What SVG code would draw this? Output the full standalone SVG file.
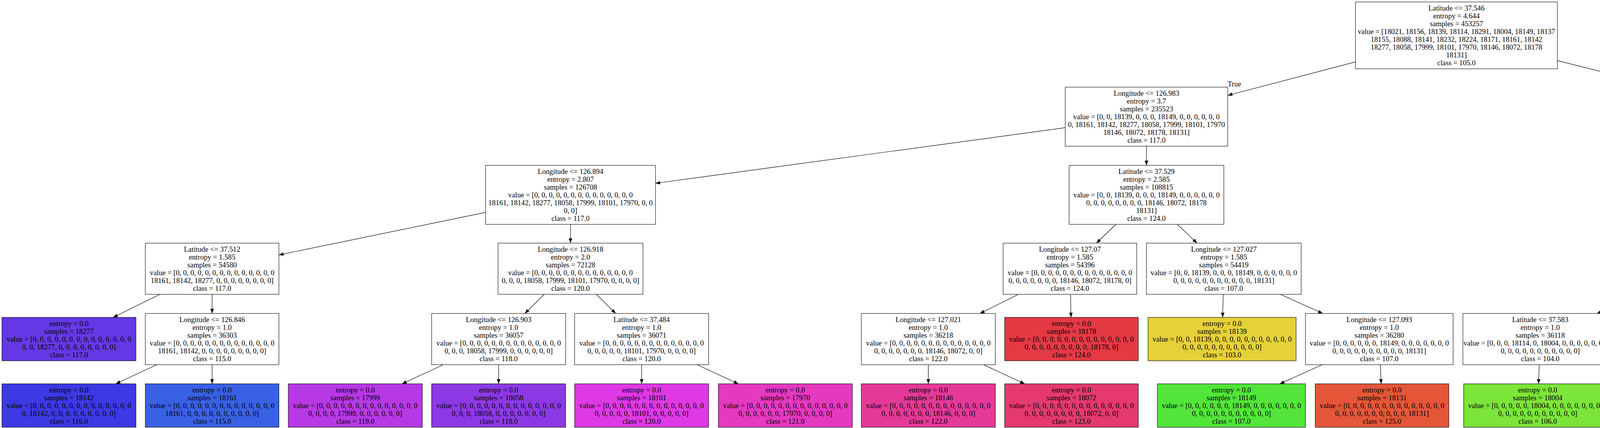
<svg xmlns="http://www.w3.org/2000/svg" width="7214" height="1095" viewBox="0 0 7214 1095">
<defs>
<style>
.nd rect{stroke:#000;stroke-width:1.1}
text{font-family:"Liberation Serif","Times New Roman",serif;font-size:18.7px;text-anchor:middle;fill:#000}
#edges line{stroke:#000;stroke-width:1.2;marker-end:url(#ah)}
</style>
<marker id="ah" markerWidth="12" markerHeight="10" refX="12" refY="5" orient="auto" markerUnits="userSpaceOnUse"><path d="M0,0.5 L12,5 L0,9.5 z" fill="#000"/></marker>
</defs>
<rect x="0" y="0" width="7214" height="1095" fill="#fff"/>
<g id="edges">
<line x1="3470" y1="158.3" x2="3143" y2="244"/>
<line x1="3987" y1="155.1" x2="4311" y2="236.1"/>
<line x1="2727" y1="326.7" x2="1678" y2="469"/>
<line x1="2935" y1="374" x2="2935" y2="423"/>
<line x1="4560" y1="374" x2="4560" y2="423"/>
<line x1="4810" y1="339" x2="5577" y2="463.5"/>
<line x1="1243" y1="543.3" x2="714" y2="652.3"/>
<line x1="1460.5" y1="574" x2="1460.5" y2="622"/>
<line x1="2856.7" y1="574" x2="2806.9" y2="622"/>
<line x1="3014.1" y1="574" x2="3064.4" y2="622"/>
<line x1="4472.6" y1="574" x2="4417.4" y2="622"/>
<line x1="4647.2" y1="574" x2="4702.9" y2="622"/>
<line x1="5792" y1="574" x2="5792" y2="622"/>
<line x1="6008" y1="564.9" x2="6208" y2="626.5"/>
<line x1="409.6" y1="753" x2="289.5" y2="812"/>
<line x1="543" y1="753" x2="543" y2="802"/>
<line x1="1393.5" y1="753" x2="1343.5" y2="802"/>
<line x1="1526.7" y1="753" x2="1576.3" y2="802"/>
<line x1="2607.1" y1="753" x2="2508.4" y2="802"/>
<line x1="2740.5" y1="753" x2="2741.8" y2="812"/>
<line x1="3131.4" y1="753" x2="3129.9" y2="812"/>
<line x1="3277.8" y1="753" x2="3386.2" y2="802"/>
<line x1="4196.8" y1="753" x2="4088.2" y2="802"/>
<line x1="4346.9" y1="753" x2="4351.3" y2="812"/>
<line x1="4774.6" y1="753" x2="4771.4" y2="802"/>
<line x1="4924.4" y1="753" x2="5055.3" y2="812"/>
<line x1="5718.9" y1="753" x2="5664.1" y2="802"/>
<line x1="5868.8" y1="753" x2="5938" y2="812"/>
<line x1="6406" y1="753" x2="6405.6" y2="812"/>
<line x1="6555.9" y1="753" x2="6668.1" y2="802"/>
<line x1="401.8" y1="933" x2="296.2" y2="982"/>
<line x1="543" y1="933" x2="543" y2="982"/>
<line x1="1135.1" y1="933" x2="1029.3" y2="982"/>
<line x1="1276.5" y1="933" x2="1276.5" y2="982"/>
<line x1="1642.5" y1="933" x2="1642.5" y2="982"/>
<line x1="1784.3" y1="933" x2="1890.4" y2="982"/>
<line x1="2376.5" y1="933" x2="2376.5" y2="982"/>
<line x1="2517.7" y1="933" x2="2623.3" y2="982"/>
<line x1="3385.2" y1="933" x2="3276.1" y2="982"/>
<line x1="3533.7" y1="933" x2="3535.7" y2="982"/>
<line x1="3940.5" y1="933" x2="3938.6" y2="982"/>
<line x1="4095.8" y1="933" x2="4210" y2="982"/>
<line x1="4762.4" y1="933" x2="4758.9" y2="982"/>
<line x1="4917.6" y1="933" x2="5030.3" y2="982"/>
<line x1="5585.2" y1="933" x2="5580.9" y2="982"/>
<line x1="5740.5" y1="933" x2="5852.3" y2="982"/>
<line x1="6740.2" y1="933" x2="6682" y2="982"/>
<line x1="6895.6" y1="933" x2="6953.7" y2="982"/>
<text x="3160" y="221">True</text>
<text x="4293" y="213">False</text>
</g>

<g id="node0" class="nd"><rect x="3470" y="5" width="517" height="171" fill="#fff"/>
<text y="26.5"><tspan x="3728.5">Latitude &lt;= 37.546</tspan><tspan x="3728.5" dy="20">entropy = 4.644</tspan><tspan x="3728.5" dy="20">samples = 453257</tspan><tspan x="3728.5" dy="20">value = [18021, 18156, 18139, 18114, 18291, 18004, 18149, 18137</tspan><tspan x="3728.5" dy="20">18155, 18088, 18141, 18232, 18224, 18171, 18161, 18142</tspan><tspan x="3728.5" dy="20">18277, 18058, 17999, 18101, 17970, 18146, 18072, 18178</tspan><tspan x="3728.5" dy="20">18131]</tspan><tspan x="3728.5" dy="20">class = 105.0</tspan></text></g>

<g id="node1" class="nd"><rect x="2727" y="223" width="416" height="151" fill="#fff"/>
<text y="244.5"><tspan x="2935">Longitude &lt;= 126.983</tspan><tspan x="2935" dy="20">entropy = 3.7</tspan><tspan x="2935" dy="20">samples = 235523</tspan><tspan x="2935" dy="20">value = [0, 0, 18139, 0, 0, 0, 18149, 0, 0, 0, 0, 0, 0</tspan><tspan x="2935" dy="20">0, 18161, 18142, 18277, 18058, 17999, 18101, 17970</tspan><tspan x="2935" dy="20">18146, 18072, 18178, 18131]</tspan><tspan x="2935" dy="20">class = 117.0</tspan></text></g>

<g id="node2" class="nd"><rect x="4311" y="223" width="499" height="151" fill="#fff"/>
<text y="244.5"><tspan x="4560.5">Longitude &lt;= 127.02</tspan><tspan x="4560.5" dy="20">entropy = 3.585</tspan><tspan x="4560.5" dy="20">samples = 217734</tspan><tspan x="4560.5" dy="20">value = [18021, 18156, 0, 18114, 18291, 18004, 0, 18137, 18155</tspan><tspan x="4560.5" dy="20">18088, 18141, 18232, 18224, 18171, 0, 0, 0, 0, 0</tspan><tspan x="4560.5" dy="20">0, 0, 0, 0, 0, 0]</tspan><tspan x="4560.5" dy="20">class = 105.0</tspan></text></g>

<g id="node3" class="nd"><rect x="1243" y="423" width="435" height="151" fill="#fff"/>
<text y="444.5"><tspan x="1460.5">Longitude &lt;= 126.894</tspan><tspan x="1460.5" dy="20">entropy = 2.807</tspan><tspan x="1460.5" dy="20">samples = 126708</tspan><tspan x="1460.5" dy="20">value = [0, 0, 0, 0, 0, 0, 0, 0, 0, 0, 0, 0, 0, 0</tspan><tspan x="1460.5" dy="20">18161, 18142, 18277, 18058, 17999, 18101, 17970, 0, 0</tspan><tspan x="1460.5" dy="20">0, 0]</tspan><tspan x="1460.5" dy="20">class = 117.0</tspan></text></g>

<g id="node4" class="nd"><rect x="2737" y="423" width="396" height="151" fill="#fff"/>
<text y="444.5"><tspan x="2935">Latitude &lt;= 37.529</tspan><tspan x="2935" dy="20">entropy = 2.585</tspan><tspan x="2935" dy="20">samples = 108815</tspan><tspan x="2935" dy="20">value = [0, 0, 18139, 0, 0, 0, 18149, 0, 0, 0, 0, 0, 0</tspan><tspan x="2935" dy="20">0, 0, 0, 0, 0, 0, 0, 0, 18146, 18072, 18178</tspan><tspan x="2935" dy="20">18131]</tspan><tspan x="2935" dy="20">class = 124.0</tspan></text></g>

<g id="node5" class="nd"><rect x="4336" y="423" width="447" height="151" fill="#fff"/>
<text y="444.5"><tspan x="4559.5">Longitude &lt;= 126.962</tspan><tspan x="4559.5" dy="20">entropy = 2.585</tspan><tspan x="4559.5" dy="20">samples = 108818</tspan><tspan x="4559.5" dy="20">value = [18021, 18156, 0, 18114, 18291, 18004, 0, 0, 0, 0</tspan><tspan x="4559.5" dy="20">0, 18232, 0, 0, 0, 0, 0, 0, 0, 0, 0, 0, 0, 0</tspan><tspan x="4559.5" dy="20">0]</tspan><tspan x="4559.5" dy="20">class = 105.0</tspan></text></g>

<g id="node6" class="nd"><rect x="5577" y="423" width="431" height="151" fill="#fff"/>
<text y="444.5"><tspan x="5792.5">Longitude &lt;= 127.049</tspan><tspan x="5792.5" dy="20">entropy = 2.585</tspan><tspan x="5792.5" dy="20">samples = 108916</tspan><tspan x="5792.5" dy="20">value = [0, 0, 0, 0, 0, 0, 0, 18137, 18155, 18088, 18141</tspan><tspan x="5792.5" dy="20">0, 18224, 18171, 0, 0, 0, 0, 0, 0, 0, 0, 0, 0</tspan><tspan x="5792.5" dy="20">0]</tspan><tspan x="5792.5" dy="20">class = 113.0</tspan></text></g>

<g id="node7" class="nd"><rect x="372" y="622" width="342" height="131" fill="#fff"/>
<text y="643.5"><tspan x="543">Latitude &lt;= 37.512</tspan><tspan x="543" dy="20">entropy = 1.585</tspan><tspan x="543" dy="20">samples = 54580</tspan><tspan x="543" dy="20">value = [0, 0, 0, 0, 0, 0, 0, 0, 0, 0, 0, 0, 0, 0</tspan><tspan x="543" dy="20">18161, 18142, 18277, 0, 0, 0, 0, 0, 0, 0, 0]</tspan><tspan x="543" dy="20">class = 117.0</tspan></text></g>

<g id="node8" class="nd"><rect x="1275" y="622" width="371" height="131" fill="#fff"/>
<text y="643.5"><tspan x="1460.5">Longitude &lt;= 126.918</tspan><tspan x="1460.5" dy="20">entropy = 2.0</tspan><tspan x="1460.5" dy="20">samples = 72128</tspan><tspan x="1460.5" dy="20">value = [0, 0, 0, 0, 0, 0, 0, 0, 0, 0, 0, 0, 0, 0</tspan><tspan x="1460.5" dy="20">0, 0, 0, 18058, 17999, 18101, 17970, 0, 0, 0, 0]</tspan><tspan x="1460.5" dy="20">class = 120.0</tspan></text></g>

<g id="node9" class="nd"><rect x="2568" y="622" width="342" height="131" fill="#fff"/>
<text y="643.5"><tspan x="2739">Longitude &lt;= 127.07</tspan><tspan x="2739" dy="20">entropy = 1.585</tspan><tspan x="2739" dy="20">samples = 54396</tspan><tspan x="2739" dy="20">value = [0, 0, 0, 0, 0, 0, 0, 0, 0, 0, 0, 0, 0, 0</tspan><tspan x="2739" dy="20">0, 0, 0, 0, 0, 0, 0, 18146, 18072, 18178, 0]</tspan><tspan x="2739" dy="20">class = 124.0</tspan></text></g>

<g id="node10" class="nd"><rect x="2935" y="622" width="396" height="131" fill="#fff"/>
<text y="643.5"><tspan x="3133">Longitude &lt;= 127.027</tspan><tspan x="3133" dy="20">entropy = 1.585</tspan><tspan x="3133" dy="20">samples = 54419</tspan><tspan x="3133" dy="20">value = [0, 0, 18139, 0, 0, 0, 18149, 0, 0, 0, 0, 0, 0</tspan><tspan x="3133" dy="20">0, 0, 0, 0, 0, 0, 0, 0, 0, 0, 0, 18131]</tspan><tspan x="3133" dy="20">class = 107.0</tspan></text></g>

<g id="node11" class="nd"><rect x="4135" y="622" width="414" height="131" fill="#fff"/>
<text y="643.5"><tspan x="4342">Longitude &lt;= 126.942</tspan><tspan x="4342" dy="20">entropy = 1.585</tspan><tspan x="4342" dy="20">samples = 54409</tspan><tspan x="4342" dy="20">value = [0, 0, 0, 18114, 18291, 18004, 0, 0, 0, 0, 0, 0</tspan><tspan x="4342" dy="20">0, 0, 0, 0, 0, 0, 0, 0, 0, 0, 0, 0, 0]</tspan><tspan x="4342" dy="20">class = 105.0</tspan></text></g>

<g id="node12" class="nd"><rect x="4572" y="622" width="414" height="131" fill="#fff"/>
<text y="643.5"><tspan x="4779">Longitude &lt;= 127.008</tspan><tspan x="4779" dy="20">entropy = 1.585</tspan><tspan x="4779" dy="20">samples = 54409</tspan><tspan x="4779" dy="20">value = [18021, 18156, 0, 0, 0, 0, 0, 0, 0, 0, 0, 18232</tspan><tspan x="4779" dy="20">0, 0, 0, 0, 0, 0, 0, 0, 0, 0, 0, 0, 0]</tspan><tspan x="4779" dy="20">class = 112.0</tspan></text></g>

<g id="node13" class="nd"><rect x="5603" y="622" width="378" height="131" fill="#fff"/>
<text y="643.5"><tspan x="5792">Latitude &lt;= 37.63</tspan><tspan x="5792" dy="20">entropy = 1.585</tspan><tspan x="5792" dy="20">samples = 54520</tspan><tspan x="5792" dy="20">value = [0, 0, 0, 0, 0, 0, 0, 0, 18155, 0, 18141, 0</tspan><tspan x="5792" dy="20">18224, 0, 0, 0, 0, 0, 0, 0, 0, 0, 0, 0, 0]</tspan><tspan x="5792" dy="20">class = 113.0</tspan></text></g>

<g id="node14" class="nd"><rect x="6208" y="622" width="396" height="131" fill="#fff"/>
<text y="643.5"><tspan x="6406">Longitude &lt;= 127.08</tspan><tspan x="6406" dy="20">entropy = 1.585</tspan><tspan x="6406" dy="20">samples = 54396</tspan><tspan x="6406" dy="20">value = [0, 0, 0, 0, 0, 0, 0, 18137, 0, 18088, 0, 0, 0</tspan><tspan x="6406" dy="20">18171, 0, 0, 0, 0, 0, 0, 0, 0, 0, 0, 0]</tspan><tspan x="6406" dy="20">class = 114.0</tspan></text></g>

<g id="node15" class="nd"><rect x="5" y="812" width="343" height="111" fill="#6439e5"/>
<text y="833.5"><tspan x="176.5">entropy = 0.0</tspan><tspan x="176.5" dy="20">samples = 18277</tspan><tspan x="176.5" dy="20">value = [0, 0, 0, 0, 0, 0, 0, 0, 0, 0, 0, 0, 0, 0</tspan><tspan x="176.5" dy="20">0, 0, 18277, 0, 0, 0, 0, 0, 0, 0, 0]</tspan><tspan x="176.5" dy="20">class = 117.0</tspan></text></g>

<g id="node16" class="nd"><rect x="372" y="802" width="342" height="131" fill="#fff"/>
<text y="823.5"><tspan x="543">Longitude &lt;= 126.846</tspan><tspan x="543" dy="20">entropy = 1.0</tspan><tspan x="543" dy="20">samples = 36303</tspan><tspan x="543" dy="20">value = [0, 0, 0, 0, 0, 0, 0, 0, 0, 0, 0, 0, 0, 0</tspan><tspan x="543" dy="20">18161, 18142, 0, 0, 0, 0, 0, 0, 0, 0, 0]</tspan><tspan x="543" dy="20">class = 115.0</tspan></text></g>

<g id="node17" class="nd"><rect x="1105" y="802" width="343" height="131" fill="#fff"/>
<text y="823.5"><tspan x="1276.5">Longitude &lt;= 126.903</tspan><tspan x="1276.5" dy="20">entropy = 1.0</tspan><tspan x="1276.5" dy="20">samples = 36057</tspan><tspan x="1276.5" dy="20">value = [0, 0, 0, 0, 0, 0, 0, 0, 0, 0, 0, 0, 0, 0</tspan><tspan x="1276.5" dy="20">0, 0, 0, 18058, 17999, 0, 0, 0, 0, 0, 0]</tspan><tspan x="1276.5" dy="20">class = 118.0</tspan></text></g>

<g id="node18" class="nd"><rect x="1471" y="802" width="343" height="131" fill="#fff"/>
<text y="823.5"><tspan x="1642.5">Latitude &lt;= 37.484</tspan><tspan x="1642.5" dy="20">entropy = 1.0</tspan><tspan x="1642.5" dy="20">samples = 36071</tspan><tspan x="1642.5" dy="20">value = [0, 0, 0, 0, 0, 0, 0, 0, 0, 0, 0, 0, 0, 0</tspan><tspan x="1642.5" dy="20">0, 0, 0, 0, 0, 18101, 17970, 0, 0, 0, 0]</tspan><tspan x="1642.5" dy="20">class = 120.0</tspan></text></g>

<g id="node19" class="nd"><rect x="2205" y="802" width="343" height="131" fill="#fff"/>
<text y="823.5"><tspan x="2376.5">Longitude &lt;= 127.021</tspan><tspan x="2376.5" dy="20">entropy = 1.0</tspan><tspan x="2376.5" dy="20">samples = 36218</tspan><tspan x="2376.5" dy="20">value = [0, 0, 0, 0, 0, 0, 0, 0, 0, 0, 0, 0, 0, 0</tspan><tspan x="2376.5" dy="20">0, 0, 0, 0, 0, 0, 0, 18146, 18072, 0, 0]</tspan><tspan x="2376.5" dy="20">class = 122.0</tspan></text></g>

<g id="node20" class="nd"><rect x="2572" y="812" width="342" height="111" fill="#e53944"/>
<text y="833.5"><tspan x="2743">entropy = 0.0</tspan><tspan x="2743" dy="20">samples = 18178</tspan><tspan x="2743" dy="20">value = [0, 0, 0, 0, 0, 0, 0, 0, 0, 0, 0, 0, 0, 0</tspan><tspan x="2743" dy="20">0, 0, 0, 0, 0, 0, 0, 0, 0, 18178, 0]</tspan><tspan x="2743" dy="20">class = 124.0</tspan></text></g>

<g id="node21" class="nd"><rect x="2939" y="812" width="379" height="111" fill="#e5d139"/>
<text y="833.5"><tspan x="3128.5">entropy = 0.0</tspan><tspan x="3128.5" dy="20">samples = 18139</tspan><tspan x="3128.5" dy="20">value = [0, 0, 18139, 0, 0, 0, 0, 0, 0, 0, 0, 0, 0, 0</tspan><tspan x="3128.5" dy="20">0, 0, 0, 0, 0, 0, 0, 0, 0, 0, 0]</tspan><tspan x="3128.5" dy="20">class = 103.0</tspan></text></g>

<g id="node22" class="nd"><rect x="3342" y="802" width="378" height="131" fill="#fff"/>
<text y="823.5"><tspan x="3531">Longitude &lt;= 127.093</tspan><tspan x="3531" dy="20">entropy = 1.0</tspan><tspan x="3531" dy="20">samples = 36280</tspan><tspan x="3531" dy="20">value = [0, 0, 0, 0, 0, 0, 18149, 0, 0, 0, 0, 0, 0, 0</tspan><tspan x="3531" dy="20">0, 0, 0, 0, 0, 0, 0, 0, 0, 0, 18131]</tspan><tspan x="3531" dy="20">class = 107.0</tspan></text></g>

<g id="node23" class="nd"><rect x="3745" y="802" width="396" height="131" fill="#fff"/>
<text y="823.5"><tspan x="3943">Latitude &lt;= 37.583</tspan><tspan x="3943" dy="20">entropy = 1.0</tspan><tspan x="3943" dy="20">samples = 36118</tspan><tspan x="3943" dy="20">value = [0, 0, 0, 18114, 0, 18004, 0, 0, 0, 0, 0, 0, 0, 0</tspan><tspan x="3943" dy="20">0, 0, 0, 0, 0, 0, 0, 0, 0, 0, 0]</tspan><tspan x="3943" dy="20">class = 104.0</tspan></text></g>

<g id="node24" class="nd"><rect x="4166" y="812" width="379" height="111" fill="#a6e539"/>
<text y="833.5"><tspan x="4355.5">entropy = 0.0</tspan><tspan x="4355.5" dy="20">samples = 18291</tspan><tspan x="4355.5" dy="20">value = [0, 0, 0, 0, 18291, 0, 0, 0, 0, 0, 0, 0, 0, 0</tspan><tspan x="4355.5" dy="20">0, 0, 0, 0, 0, 0, 0, 0, 0, 0, 0]</tspan><tspan x="4355.5" dy="20">class = 105.0</tspan></text></g>

<g id="node25" class="nd"><rect x="4569" y="802" width="396" height="131" fill="#fff"/>
<text y="823.5"><tspan x="4767">Latitude &lt;= 37.568</tspan><tspan x="4767" dy="20">entropy = 1.0</tspan><tspan x="4767" dy="20">samples = 36177</tspan><tspan x="4767" dy="20">value = [18021, 18156, 0, 0, 0, 0, 0, 0, 0, 0, 0, 0, 0, 0</tspan><tspan x="4767" dy="20">0, 0, 0, 0, 0, 0, 0, 0, 0, 0, 0]</tspan><tspan x="4767" dy="20">class = 102.0</tspan></text></g>

<g id="node26" class="nd"><rect x="4989" y="812" width="379" height="111" fill="#39dce5"/>
<text y="833.5"><tspan x="5178.5">entropy = 0.0</tspan><tspan x="5178.5" dy="20">samples = 18232</tspan><tspan x="5178.5" dy="20">value = [0, 0, 0, 0, 0, 0, 0, 0, 0, 0, 0, 18232, 0, 0</tspan><tspan x="5178.5" dy="20">0, 0, 0, 0, 0, 0, 0, 0, 0, 0, 0]</tspan><tspan x="5178.5" dy="20">class = 112.0</tspan></text></g>

<g id="node27" class="nd"><rect x="5393" y="802" width="396" height="131" fill="#fff"/>
<text y="823.5"><tspan x="5591">Latitude &lt;= 37.591</tspan><tspan x="5591" dy="20">entropy = 1.0</tspan><tspan x="5591" dy="20">samples = 36296</tspan><tspan x="5591" dy="20">value = [0, 0, 0, 0, 0, 0, 0, 0, 18155, 0, 18141, 0, 0</tspan><tspan x="5591" dy="20">0, 0, 0, 0, 0, 0, 0, 0, 0, 0, 0, 0]</tspan><tspan x="5591" dy="20">class = 109.0</tspan></text></g>

<g id="node28" class="nd"><rect x="5814" y="812" width="378" height="111" fill="#39b4e5"/>
<text y="833.5"><tspan x="6003">entropy = 0.0</tspan><tspan x="6003" dy="20">samples = 18224</tspan><tspan x="6003" dy="20">value = [0, 0, 0, 0, 0, 0, 0, 0, 0, 0, 0, 0, 18224, 0</tspan><tspan x="6003" dy="20">0, 0, 0, 0, 0, 0, 0, 0, 0, 0, 0]</tspan><tspan x="6003" dy="20">class = 113.0</tspan></text></g>

<g id="node29" class="nd"><rect x="6216" y="812" width="379" height="111" fill="#3989e5"/>
<text y="833.5"><tspan x="6405.5">entropy = 0.0</tspan><tspan x="6405.5" dy="20">samples = 18171</tspan><tspan x="6405.5" dy="20">value = [0, 0, 0, 0, 0, 0, 0, 0, 0, 0, 0, 0, 0, 18171</tspan><tspan x="6405.5" dy="20">0, 0, 0, 0, 0, 0, 0, 0, 0, 0, 0]</tspan><tspan x="6405.5" dy="20">class = 114.0</tspan></text></g>

<g id="node30" class="nd"><rect x="6620" y="802" width="396" height="131" fill="#fff"/>
<text y="823.5"><tspan x="6818">Longitude &lt;= 127.093</tspan><tspan x="6818" dy="20">entropy = 1.0</tspan><tspan x="6818" dy="20">samples = 36225</tspan><tspan x="6818" dy="20">value = [0, 0, 0, 0, 0, 0, 0, 18137, 0, 18088, 0, 0, 0</tspan><tspan x="6818" dy="20">0, 0, 0, 0, 0, 0, 0, 0, 0, 0, 0, 0]</tspan><tspan x="6818" dy="20">class = 108.0</tspan></text></g>

<g id="node31" class="nd"><rect x="5" y="982" width="343" height="111" fill="#3c39e5"/>
<text y="1003.5"><tspan x="176.5">entropy = 0.0</tspan><tspan x="176.5" dy="20">samples = 18142</tspan><tspan x="176.5" dy="20">value = [0, 0, 0, 0, 0, 0, 0, 0, 0, 0, 0, 0, 0, 0</tspan><tspan x="176.5" dy="20">0, 18142, 0, 0, 0, 0, 0, 0, 0, 0, 0]</tspan><tspan x="176.5" dy="20">class = 116.0</tspan></text></g>

<g id="node32" class="nd"><rect x="372" y="982" width="342" height="111" fill="#3961e5"/>
<text y="1003.5"><tspan x="543">entropy = 0.0</tspan><tspan x="543" dy="20">samples = 18161</tspan><tspan x="543" dy="20">value = [0, 0, 0, 0, 0, 0, 0, 0, 0, 0, 0, 0, 0, 0</tspan><tspan x="543" dy="20">18161, 0, 0, 0, 0, 0, 0, 0, 0, 0, 0]</tspan><tspan x="543" dy="20">class = 115.0</tspan></text></g>

<g id="node33" class="nd"><rect x="738" y="982" width="343" height="111" fill="#b739e5"/>
<text y="1003.5"><tspan x="909.5">entropy = 0.0</tspan><tspan x="909.5" dy="20">samples = 17999</tspan><tspan x="909.5" dy="20">value = [0, 0, 0, 0, 0, 0, 0, 0, 0, 0, 0, 0, 0, 0</tspan><tspan x="909.5" dy="20">0, 0, 0, 0, 17999, 0, 0, 0, 0, 0, 0]</tspan><tspan x="909.5" dy="20">class = 119.0</tspan></text></g>

<g id="node34" class="nd"><rect x="1105" y="982" width="343" height="111" fill="#8c39e5"/>
<text y="1003.5"><tspan x="1276.5">entropy = 0.0</tspan><tspan x="1276.5" dy="20">samples = 18058</tspan><tspan x="1276.5" dy="20">value = [0, 0, 0, 0, 0, 0, 0, 0, 0, 0, 0, 0, 0, 0</tspan><tspan x="1276.5" dy="20">0, 0, 0, 18058, 0, 0, 0, 0, 0, 0, 0]</tspan><tspan x="1276.5" dy="20">class = 118.0</tspan></text></g>

<g id="node35" class="nd"><rect x="1471" y="982" width="343" height="111" fill="#df39e5"/>
<text y="1003.5"><tspan x="1642.5">entropy = 0.0</tspan><tspan x="1642.5" dy="20">samples = 18101</tspan><tspan x="1642.5" dy="20">value = [0, 0, 0, 0, 0, 0, 0, 0, 0, 0, 0, 0, 0, 0</tspan><tspan x="1642.5" dy="20">0, 0, 0, 0, 0, 18101, 0, 0, 0, 0, 0]</tspan><tspan x="1642.5" dy="20">class = 120.0</tspan></text></g>

<g id="node36" class="nd"><rect x="1839" y="982" width="343" height="111" fill="#e539c0"/>
<text y="1003.5"><tspan x="2010.5">entropy = 0.0</tspan><tspan x="2010.5" dy="20">samples = 17970</tspan><tspan x="2010.5" dy="20">value = [0, 0, 0, 0, 0, 0, 0, 0, 0, 0, 0, 0, 0, 0</tspan><tspan x="2010.5" dy="20">0, 0, 0, 0, 0, 0, 17970, 0, 0, 0, 0]</tspan><tspan x="2010.5" dy="20">class = 121.0</tspan></text></g>

<g id="node37" class="nd"><rect x="2205" y="982" width="343" height="111" fill="#e53998"/>
<text y="1003.5"><tspan x="2376.5">entropy = 0.0</tspan><tspan x="2376.5" dy="20">samples = 18146</tspan><tspan x="2376.5" dy="20">value = [0, 0, 0, 0, 0, 0, 0, 0, 0, 0, 0, 0, 0, 0</tspan><tspan x="2376.5" dy="20">0, 0, 0, 0, 0, 0, 0, 18146, 0, 0, 0]</tspan><tspan x="2376.5" dy="20">class = 122.0</tspan></text></g>

<g id="node38" class="nd"><rect x="2572" y="982" width="342" height="111" fill="#e5396f"/>
<text y="1003.5"><tspan x="2743">entropy = 0.0</tspan><tspan x="2743" dy="20">samples = 18072</tspan><tspan x="2743" dy="20">value = [0, 0, 0, 0, 0, 0, 0, 0, 0, 0, 0, 0, 0, 0</tspan><tspan x="2743" dy="20">0, 0, 0, 0, 0, 0, 0, 0, 18072, 0, 0]</tspan><tspan x="2743" dy="20">class = 123.0</tspan></text></g>

<g id="node39" class="nd"><rect x="2963" y="982" width="379" height="111" fill="#53e539"/>
<text y="1003.5"><tspan x="3152.5">entropy = 0.0</tspan><tspan x="3152.5" dy="20">samples = 18149</tspan><tspan x="3152.5" dy="20">value = [0, 0, 0, 0, 0, 0, 18149, 0, 0, 0, 0, 0, 0, 0</tspan><tspan x="3152.5" dy="20">0, 0, 0, 0, 0, 0, 0, 0, 0, 0, 0]</tspan><tspan x="3152.5" dy="20">class = 107.0</tspan></text></g>

<g id="node40" class="nd"><rect x="3367" y="982" width="342" height="111" fill="#e55639"/>
<text y="1003.5"><tspan x="3538">entropy = 0.0</tspan><tspan x="3538" dy="20">samples = 18131</tspan><tspan x="3538" dy="20">value = [0, 0, 0, 0, 0, 0, 0, 0, 0, 0, 0, 0, 0, 0</tspan><tspan x="3538" dy="20">0, 0, 0, 0, 0, 0, 0, 0, 0, 0, 18131]</tspan><tspan x="3538" dy="20">class = 125.0</tspan></text></g>

<g id="node41" class="nd"><rect x="3747" y="982" width="379" height="111" fill="#7be539"/>
<text y="1003.5"><tspan x="3936.5">entropy = 0.0</tspan><tspan x="3936.5" dy="20">samples = 18004</tspan><tspan x="3936.5" dy="20">value = [0, 0, 0, 0, 0, 18004, 0, 0, 0, 0, 0, 0, 0, 0</tspan><tspan x="3936.5" dy="20">0, 0, 0, 0, 0, 0, 0, 0, 0, 0, 0]</tspan><tspan x="3936.5" dy="20">class = 106.0</tspan></text></g>

<g id="node42" class="nd"><rect x="4150" y="982" width="379" height="111" fill="#cee539"/>
<text y="1003.5"><tspan x="4339.5">entropy = 0.0</tspan><tspan x="4339.5" dy="20">samples = 18114</tspan><tspan x="4339.5" dy="20">value = [0, 0, 0, 18114, 0, 0, 0, 0, 0, 0, 0, 0, 0, 0</tspan><tspan x="4339.5" dy="20">0, 0, 0, 0, 0, 0, 0, 0, 0, 0, 0]</tspan><tspan x="4339.5" dy="20">class = 104.0</tspan></text></g>

<g id="node43" class="nd"><rect x="4566" y="982" width="378" height="111" fill="#e5a939"/>
<text y="1003.5"><tspan x="4755">entropy = 0.0</tspan><tspan x="4755" dy="20">samples = 18156</tspan><tspan x="4755" dy="20">value = [0, 18156, 0, 0, 0, 0, 0, 0, 0, 0, 0, 0, 0, 0</tspan><tspan x="4755" dy="20">0, 0, 0, 0, 0, 0, 0, 0, 0, 0, 0]</tspan><tspan x="4755" dy="20">class = 102.0</tspan></text></g>

<g id="node44" class="nd"><rect x="4969" y="982" width="378" height="111" fill="#e58139"/>
<text y="1003.5"><tspan x="5158">entropy = 0.0</tspan><tspan x="5158" dy="20">samples = 18021</tspan><tspan x="5158" dy="20">value = [18021, 0, 0, 0, 0, 0, 0, 0, 0, 0, 0, 0, 0, 0</tspan><tspan x="5158" dy="20">0, 0, 0, 0, 0, 0, 0, 0, 0, 0, 0]</tspan><tspan x="5158" dy="20">class = 101.0</tspan></text></g>

<g id="node45" class="nd"><rect x="5387" y="982" width="378" height="111" fill="#39e572"/>
<text y="1003.5"><tspan x="5576">entropy = 0.0</tspan><tspan x="5576" dy="20">samples = 18155</tspan><tspan x="5576" dy="20">value = [0, 0, 0, 0, 0, 0, 0, 0, 18155, 0, 0, 0, 0, 0</tspan><tspan x="5576" dy="20">0, 0, 0, 0, 0, 0, 0, 0, 0, 0, 0]</tspan><tspan x="5576" dy="20">class = 109.0</tspan></text></g>

<g id="node46" class="nd"><rect x="5790" y="982" width="378" height="111" fill="#39e5c5"/>
<text y="1003.5"><tspan x="5979">entropy = 0.0</tspan><tspan x="5979" dy="20">samples = 18141</tspan><tspan x="5979" dy="20">value = [0, 0, 0, 0, 0, 0, 0, 0, 0, 0, 18141, 0, 0, 0</tspan><tspan x="5979" dy="20">0, 0, 0, 0, 0, 0, 0, 0, 0, 0, 0]</tspan><tspan x="5979" dy="20">class = 111.0</tspan></text></g>

<g id="node47" class="nd"><rect x="6427" y="982" width="378" height="111" fill="#39e547"/>
<text y="1003.5"><tspan x="6616">entropy = 0.0</tspan><tspan x="6616" dy="20">samples = 18137</tspan><tspan x="6616" dy="20">value = [0, 0, 0, 0, 0, 0, 0, 18137, 0, 0, 0, 0, 0, 0</tspan><tspan x="6616" dy="20">0, 0, 0, 0, 0, 0, 0, 0, 0, 0, 0]</tspan><tspan x="6616" dy="20">class = 108.0</tspan></text></g>

<g id="node48" class="nd"><rect x="6830" y="982" width="379" height="111" fill="#39e59a"/>
<text y="1003.5"><tspan x="7019.5">entropy = 0.0</tspan><tspan x="7019.5" dy="20">samples = 18088</tspan><tspan x="7019.5" dy="20">value = [0, 0, 0, 0, 0, 0, 0, 0, 0, 18088, 0, 0, 0, 0</tspan><tspan x="7019.5" dy="20">0, 0, 0, 0, 0, 0, 0, 0, 0, 0, 0]</tspan><tspan x="7019.5" dy="20">class = 110.0</tspan></text></g>
</svg>
